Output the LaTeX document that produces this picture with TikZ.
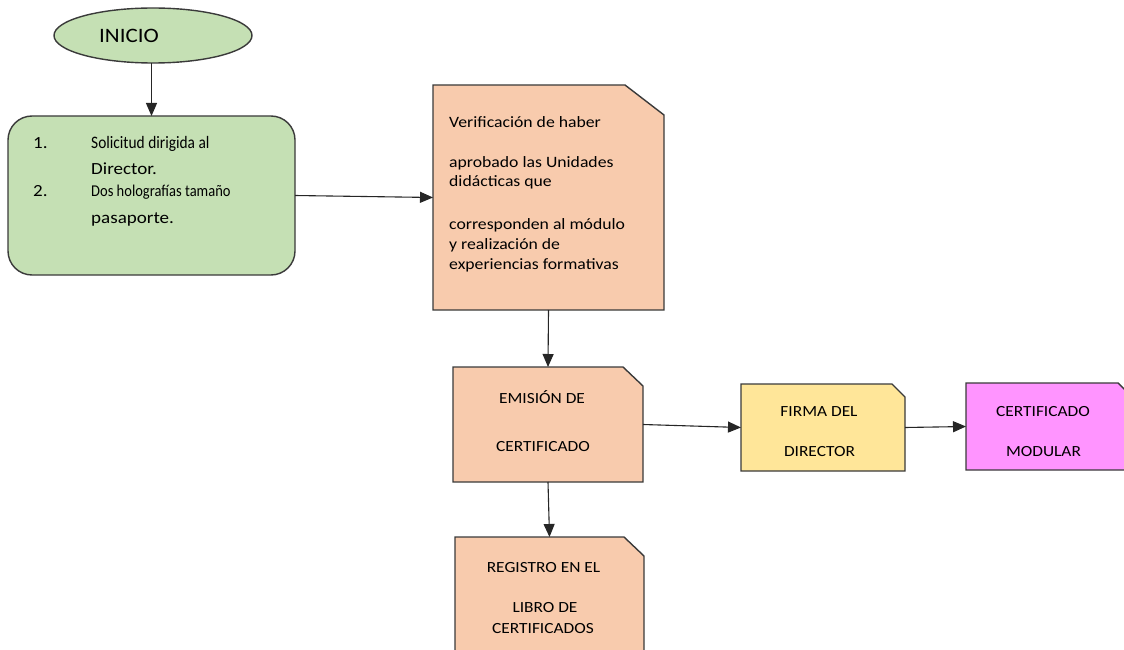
\documentclass[tikz,border=0pt]{standalone}
\usepackage{fontspec}
\setmainfont{Carlito}[FakeStretch=1.12]
\newfontfamily\narrowfont{Carlito}[FakeStretch=0.88]
\usetikzlibrary{arrows.meta,backgrounds,shapes.geometric}

\definecolor{startgreen}{HTML}{C5E0B4}
\definecolor{peach}{HTML}{F8CBAD}
\definecolor{paleyellow}{HTML}{FFE699}
\definecolor{pinkmagenta}{HTML}{FF94FF}
\definecolor{edge}{HTML}{3A3A3A}

\tikzset{
  boxline/.style={draw=edge, line width=1.4pt},
  area/.style={inner sep=0pt, outer sep=0pt},
  flow/.style={draw=black!85, line width=1.1pt, -{Triangle[length=13pt,width=11pt]}},
  ctxt/.style={inner sep=0pt, anchor=base, font=\fontsize{15.5}{18}\selectfont},
  ltxt/.style={inner sep=0pt, anchor=base west, font=\fontsize{17}{20}\selectfont},
  vtxt/.style={inner sep=0pt, anchor=base west, font=\fontsize{15.8}{19}\selectfont},
}

% box with its top right corner cut off: node, horizontal cut, vertical cut, fill
\newcommand\cutcornerbox[4]{%
  \filldraw[boxline, fill=#4] (#1.south west) -- (#1.north west)
    -- ([xshift=-#2]#1.north east) -- ([yshift=-#3]#1.north east)
    -- (#1.south east) -- cycle;}

\begin{document}
\begin{tikzpicture}[x=1pt,y=-1pt]
\useasboundingbox (0,0) rectangle (1124,650);
\clip (0,0) rectangle (1124,650);

% start and requirements
\node[ellipse, boxline, fill=startgreen, area, minimum width=198pt, minimum height=55pt]
  (inicio) at (153,35.5) {};
\node[rectangle, rounded corners=24pt, boxline, fill=startgreen, area,
  minimum width=287pt, minimum height=159pt] (req) at (151.5,195.5) {};

% process boxes (outlines drawn behind on the background layer)
\node[area, minimum width=231pt, minimum height=225pt] (verif) at (548.5,197.5) {};
\node[area, minimum width=190pt, minimum height=115pt] (emision) at (548,424.5) {};
\node[area, minimum width=164pt, minimum height=87pt] (firma) at (823,427.5) {};
\node[area, minimum width=165pt, minimum height=87pt] (cert) at (1048.5,426.5) {};
\node[area, minimum width=189pt, minimum height=115pt] (registro) at (549.5,594.5) {};

\begin{scope}[on background layer]
  \clip (0,0) rectangle (1124,650);
  \cutcornerbox{verif}{39pt}{30pt}{peach}
  \cutcornerbox{emision}{20pt}{19pt}{peach}
  \cutcornerbox{firma}{13pt}{13pt}{paleyellow}
  \cutcornerbox{cert}{13pt}{13pt}{pinkmagenta}
  \cutcornerbox{registro}{20pt}{19pt}{peach}
\end{scope}

% texts
\node[inner sep=0pt, anchor=base west, font=\fontsize{20.5}{24}\selectfont] (t-inicio) at (99,43) {INICIO};

\node[ltxt] (t-n1) at (33,149) {1.};
\node[ltxt] (t-n2) at (33,196) {2.};
\node[ltxt, font=\narrowfont\fontsize{17.5}{20}\selectfont] (t-sol) at (91,149) {Solicitud dirigida al};
\node[ltxt] (t-dir) at (91,175) {Director.};
\node[ltxt, font=\narrowfont\fontsize{16.5}{20}\selectfont] (t-dos) at (91,196) {Dos holografías tamaño};
\node[ltxt] (t-pas) at (91,223) {pasaporte.};

\node[vtxt] (t-v1) at (449,128) {Verificación de haber};
\node[vtxt] (t-v2) at (449,167) {aprobado las Unidades};
\node[vtxt] (t-v3) at (449,186) {didácticas que};
\node[vtxt] (t-v4) at (449,229) {corresponden al módulo};
\node[vtxt] (t-v5) at (449,249) {y realización de};
\node[vtxt] (t-v6) at (449,269) {experiencias formativas};

\node[ctxt] (t-e1) at (542,403) {EMISIÓN DE};
\node[ctxt] (t-e2) at (543,451) {CERTIFICADO};
\node[ctxt] (t-f1) at (819,416) {FIRMA DEL};
\node[ctxt] (t-f2) at (819.5,456) {DIRECTOR};
\node[ctxt] (t-c1) at (1043,416) {CERTIFICADO};
\node[ctxt] (t-c2) at (1043.5,456) {MODULAR};
\node[ctxt] (t-r1) at (543.5,572) {REGISTRO EN EL};
\node[ctxt] (t-r2) at (545,612) {LIBRO DE};
\node[ctxt] (t-r3) at (543,633) {CERTIFICADOS};

% connectors
\draw[flow] (req.north |- inicio.south) -- (req.north);
\draw[flow] (req.east) -- (verif.west);
\draw[flow] (verif.south) -- (emision.north);
\draw[flow] (emision.east) -- (firma.west);
\draw[flow] (firma.east) -- (cert.west);
\draw[flow] (emision.south) -- (registro.north);
\end{tikzpicture}
\end{document}
